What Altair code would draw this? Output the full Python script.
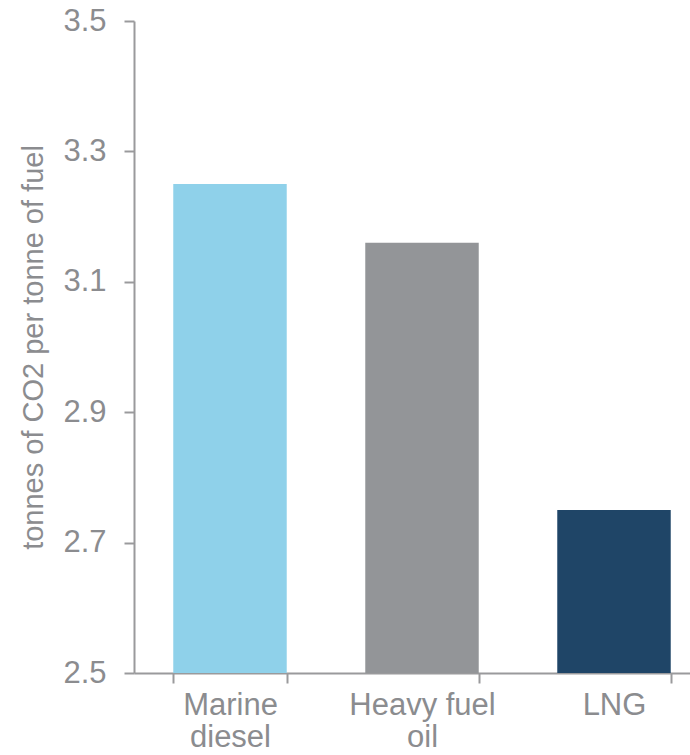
import altair as alt
import pandas as pd

fuels = ["Marine diesel", "Heavy fuel oil", "LNG"]
label_lines = [["Marine", "diesel"], ["Heavy fuel", "oil"], ["LNG"]]
co2_per_tonne = [3.25, 3.16, 2.75]
colors = ["#8fd1ea", "#939598", "#1f4567"]
y_ticks = [2.5, 2.7, 2.9, 3.1, 3.3, 3.5]
y_domain = [2.5, 3.5]

df = pd.DataFrame({"fuel": fuels, "value": co2_per_tonne})

label_expr = ""
for f, lines in zip(fuels, label_lines):
    arr = "[" + ",".join("'" + s + "'" for s in lines) + "]"
    label_expr += f"datum.label == '{f}' ? {arr} : "
label_expr += "datum.label"

GRAY = "#8b8c8f"
AXIS = "#9a9a9c"
FONT = "Liberation Sans"

chart = alt.Chart(df).mark_bar().encode(
    x=alt.X(
        "fuel:N",
        sort=fuels,
        scale=alt.Scale(range=[0, 576], paddingInner=0.409, paddingOuter=0.2045),
        axis=alt.Axis(
            title=None,
            labelAngle=0,
            labelExpr=label_expr,
            labelFont=FONT,
            labelFontSize=31,
            labelColor=GRAY,
            labelLineHeight=32,
            labelPadding=7,
            tickBand="extent",
            tickSize=10,
            tickColor=AXIS,
            tickWidth=2,
            domainColor=AXIS,
            domainWidth=2,
        ),
    ),
    y=alt.Y(
        "value:Q",
        scale=alt.Scale(domain=y_domain, nice=False, zero=False, clamp=True),
        axis=alt.Axis(
            values=y_ticks,
            format=".1f",
            title="tonnes of CO2 per tonne of fuel",
            titleFont=FONT,
            titleFontSize=29,
            titleFontWeight="normal",
            titleColor=GRAY,
            titleAngle=-90,
            titleX=-92,
            titleY=326,
            titleAlign="center",
            titleBaseline="alphabetic",
            labelFont=FONT,
            labelFontSize=31,
            labelColor=GRAY,
            labelPadding=18,
            tickSize=10,
            tickColor=AXIS,
            tickWidth=2,
            domainColor=AXIS,
            domainWidth=2,
            grid=False,
        ),
    ),
    y2=alt.datum(y_domain[0]),
    color=alt.Color("fuel:N", scale=alt.Scale(domain=fuels, range=colors), legend=None),
).properties(
    width=556,
    height=652,
    autosize=alt.AutoSizeParams(type="none"),
    padding={"left": 134, "top": 21, "right": 0, "bottom": 82},
    background="white",
).configure_view(stroke=None)

chart.save("out.html", embed_options={"renderer": "svg", "actions": False})
